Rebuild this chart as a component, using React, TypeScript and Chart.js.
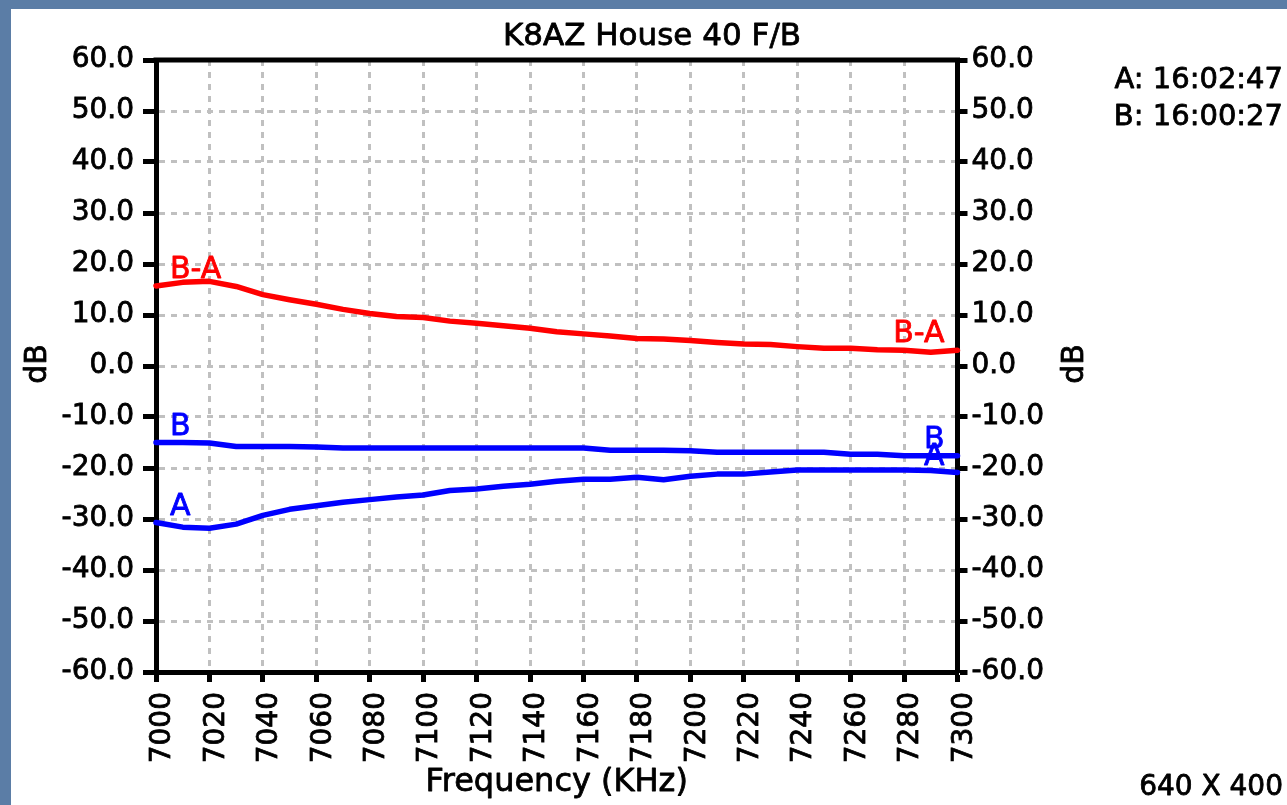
import React, { useEffect, useRef } from "react";
import { Chart, registerables } from "chart.js";

Chart.register(...registerables);

// ---- Data ----
const freqs = [
  7000, 7010, 7020, 7030, 7040, 7050, 7060, 7070, 7080, 7090, 7100,
  7110, 7120, 7130, 7140, 7150, 7160, 7170, 7180, 7190, 7200,
  7210, 7220, 7230, 7240, 7250, 7260, 7270, 7280, 7290, 7300,
];

const seriesBA = [
  15.7, 16.4, 16.6, 15.6, 14.0, 13.0, 12.1, 11.1, 10.3, 9.7, 9.5,
  8.8, 8.4, 7.9, 7.4, 6.7, 6.3, 5.9, 5.4, 5.3, 5.0,
  4.6, 4.3, 4.2, 3.8, 3.5, 3.5, 3.2, 3.1, 2.7, 3.1,
];

const seriesB = [
  -15.0, -15.0, -15.1, -15.8, -15.8, -15.8, -15.9, -16.1, -16.1, -16.1, -16.1,
  -16.1, -16.1, -16.1, -16.1, -16.1, -16.1, -16.5, -16.5, -16.5, -16.6,
  -16.9, -16.9, -16.9, -16.9, -16.9, -17.3, -17.3, -17.6, -17.6, -17.6,
];

const seriesA = [
  -30.7, -31.6, -31.8, -31.0, -29.3, -28.1, -27.4, -26.7, -26.2, -25.7, -25.3,
  -24.4, -24.1, -23.6, -23.2, -22.6, -22.2, -22.2, -21.8, -22.3, -21.6,
  -21.2, -21.2, -20.8, -20.4, -20.4, -20.4, -20.4, -20.4, -20.5, -20.9,
];

const seriesNames = ["B-A", "B", "A"];
const seriesColors = ["#ff0000", "#0000ff", "#0000ff"];

const xTickValues = [
  7000, 7020, 7040, 7060, 7080, 7100, 7120, 7140,
  7160, 7180, 7200, 7220, 7240, 7260, 7280, 7300,
];
const xTickLabels = [
  "7000", "7020", "7040", "7060", "7080", "7100", "7120", "7140",
  "7160", "7180", "7200", "7220", "7240", "7260", "7280", "7300",
];
const yTickValues = [-60, -50, -40, -30, -20, -10, 0, 10, 20, 30, 40, 50, 60];
const yTickLabels = [
  "-60.0", "-50.0", "-40.0", "-30.0", "-20.0", "-10.0", "0.0",
  "10.0", "20.0", "30.0", "40.0", "50.0", "60.0",
];

const titleText = "K8AZ House 40 F/B";
const xTitle = "Frequency (KHz)";
const yTitle = "dB";
const infoLines = ["A: 16:02:47", "B: 16:00:27"];
const sizeText = "640 X 400";

const W = 1287;
const H = 805;
const FONT = "'DejaVu Sans', 'Liberation Sans', Arial, sans-serif";
const STROKE = 0.8;

function heavyText(ctx: CanvasRenderingContext2D, text: string, x: number, y: number) {
  ctx.lineWidth = STROKE;
  ctx.strokeStyle = ctx.fillStyle as string;
  ctx.lineJoin = "round";
  ctx.strokeText(text, x, y);
  ctx.fillText(text, x, y);
}

const decorPlugin = {
  id: "decor",
  beforeDraw(chart: any) {
    const { ctx } = chart;
    ctx.save();
    ctx.fillStyle = "#5b7da6";
    ctx.fillRect(0, 0, W, H);
    ctx.fillStyle = "#ffffff";
    ctx.fillRect(11, 9, W - 11, H - 9);
    ctx.restore();
  },
  beforeDatasetsDraw(chart: any) {
    const { ctx, chartArea } = chart;
    ctx.save();
    // top frame line
    ctx.strokeStyle = "#000";
    ctx.lineWidth = 5;
    ctx.beginPath();
    ctx.moveTo(chartArea.left - 2.5, chartArea.top);
    ctx.lineTo(chartArea.right + 2.5, chartArea.top);
    ctx.stroke();

    // series labels at both ends
    ctx.font = `30px ${FONT}`;
    ctx.textBaseline = "alphabetic";
    chart.data.datasets.forEach((_ds: any, i: number) => {
      const meta = chart.getDatasetMeta(i);
      const first = meta.data[0];
      const last = meta.data[meta.data.length - 1];
      ctx.fillStyle = seriesColors[i];
      ctx.textAlign = "left";
      heavyText(ctx, seriesNames[i], first.x + 14, first.y - 8);
      ctx.textAlign = "right";
      heavyText(ctx, seriesNames[i], last.x - 13, last.y - 8);
    });
    ctx.restore();
  },
  afterDraw(chart: any) {
    const { ctx, chartArea } = chart;
    ctx.save();
    ctx.fillStyle = "#000";
    ctx.textBaseline = "alphabetic";

    // title
    ctx.font = `31px ${FONT}`;
    ctx.textAlign = "center";
    heavyText(ctx, titleText, (11 + W) / 2 + 3, 45);

    // x axis title
    ctx.font = `32px ${FONT}`;
    heavyText(ctx, xTitle, (chartArea.left + chartArea.right) / 2, 791);

    // info lines
    ctx.font = `29px ${FONT}`;
    ctx.textAlign = "right";
    heavyText(ctx, infoLines[0], 1283, 88);
    heavyText(ctx, infoLines[1], 1283, 125);

    ctx.font = `28px ${FONT}`;
    heavyText(ctx, sizeText, 1283, 795);

    // y titles (rotated, reading upwards)
    ctx.font = `30px ${FONT}`;
    ctx.textAlign = "center";
    ctx.textBaseline = "middle";
    const midY = (chartArea.top + chartArea.bottom) / 2;
    [38, 1075].forEach((x) => {
      ctx.save();
      ctx.translate(x, midY - 2);
      ctx.rotate(-Math.PI / 2);
      heavyText(ctx, yTitle, 0, 0);
      ctx.restore();
    });
    ctx.restore();
  },
};

const tickFont = { family: FONT, size: 28 };

export default function App() {
  const canvasRef = useRef<HTMLCanvasElement | null>(null);

  useEffect(() => {
    const canvas = canvasRef.current;
    if (!canvas) return;

    const mk = (vals: number[]) => freqs.map((f, i) => ({ x: f, y: vals[i] }));
    const allSeries = [seriesBA, seriesB, seriesA];

    const chart = new Chart(canvas, {
      type: "line",
      data: {
        datasets: allSeries.map((vals, i) => ({
          label: seriesNames[i],
          data: mk(vals),
          borderColor: seriesColors[i],
          backgroundColor: seriesColors[i],
          borderWidth: 5.5,
          pointRadius: 0,
          tension: 0,
          borderCapStyle: "round",
          borderJoinStyle: "round",
          clip: 6,
          yAxisID: "y",
        })),
      },
      options: {
        responsive: false,
        maintainAspectRatio: false,
        devicePixelRatio: 1,
        animation: false,
        events: [],
        layout: { padding: { top: 60, left: 0, right: 0, bottom: 0 } },
        plugins: {
          legend: { display: false },
          title: { display: false },
          tooltip: { enabled: false },
        },
        scales: {
          x: {
            type: "linear",
            position: "bottom",
            min: 7000,
            max: 7300,
            afterBuildTicks: (s: any) => {
              s.ticks = xTickValues.map((v) => ({ value: v }));
            },
            afterFit: (s: any) => {
              s.height = 133;
            },
            grid: {
              color: "#c0c0c0",
              lineWidth: 3,
              tickLength: 10,
              tickWidth: 5,
              tickColor: "#000",
            },
            border: { color: "#000", width: 5, dash: [6, 6] },
            ticks: {
              autoSkip: false,
              minRotation: 90,
              maxRotation: 90,
              padding: 10,
              labelOffset: 7,
              color: "#000",
              textStrokeColor: "#000",
              textStrokeWidth: STROKE,
              font: tickFont,
              callback: (_v: any, i: number) => xTickLabels[i],
            },
          },
          y: {
            type: "linear",
            position: "left",
            min: -60,
            max: 60,
            afterBuildTicks: (s: any) => {
              s.ticks = yTickValues.map((v) => ({ value: v }));
            },
            afterFit: (s: any) => {
              s.width = 156;
            },
            grid: {
              color: "#c0c0c0",
              lineWidth: 3,
              tickLength: 13,
              tickWidth: 5,
              tickColor: "#000",
            },
            border: { color: "#000", width: 5, dash: [6, 6] },
            ticks: {
              padding: 9,
              color: "#000",
              textStrokeColor: "#000",
              textStrokeWidth: STROKE,
              font: tickFont,
              callback: (_v: any, i: number) => yTickLabels[i],
            },
          },
          y2: {
            type: "linear",
            position: "right",
            min: -60,
            max: 60,
            afterBuildTicks: (s: any) => {
              s.ticks = yTickValues.map((v) => ({ value: v }));
            },
            afterFit: (s: any) => {
              s.width = W - 957.5;
            },
            grid: {
              drawOnChartArea: false,
              tickLength: 10,
              tickWidth: 5,
              tickColor: "#000",
            },
            border: { color: "#000", width: 5 },
            ticks: {
              padding: 4,
              color: "#000",
              textStrokeColor: "#000",
              textStrokeWidth: STROKE,
              font: tickFont,
              callback: (_v: any, i: number) => yTickLabels[i],
            },
          },
        },
      },
      plugins: [decorPlugin],
    } as any);

    return () => {
      chart.destroy();
    };
  }, []);

  return (
    <div style={{ position: "fixed", left: 0, top: 0, width: W, height: H }}>
      <canvas
        ref={canvasRef}
        width={W}
        height={H}
        style={{ display: "block", width: W, height: H }}
      />
    </div>
  );
}
